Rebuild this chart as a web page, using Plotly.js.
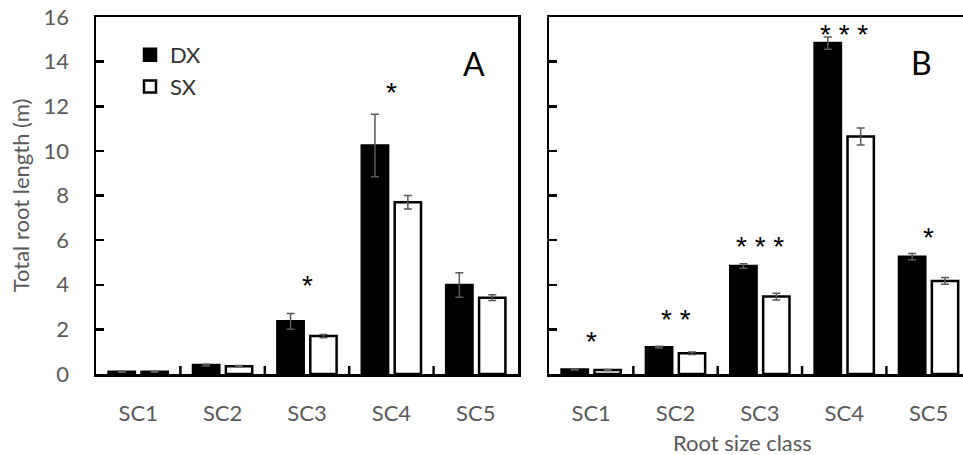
<!DOCTYPE html>
<html><head><meta charset="utf-8">
<script src="https://cdn.plot.ly/plotly-3.0.1.min.js"></script>
<style>html,body{margin:0;padding:0;background:#fff}#chart{width:963px;height:455px}</style>
</head><body><div id="chart"></div>
<script>
// ---- data ----
var categories = ['SC1','SC2','SC3','SC4','SC5'];
// Panel A
var dxA    = [0.10, 0.40, 2.36, 10.24, 3.99];
var dxAerr = [0.02, 0.04, 0.35, 1.40, 0.55];
var sxA    = [0.10, 0.35, 1.70, 7.70, 3.42];
var sxAerr = [0.02, 0.03, 0.07, 0.30, 0.13];
var sigA   = ['', '', '*', '*', ''];
var sigAy  = [0, 0, 3.95, 12.6, 0];
// Panel B
var dxB    = [0.20, 1.20, 4.84, 14.83, 5.26];
var dxBerr = [0.02, 0.04, 0.10, 0.27, 0.14];
var sxB    = [0.18, 0.93, 3.47, 10.64, 4.17];
var sxBerr = [0.02, 0.06, 0.15, 0.38, 0.15];
var sigB   = ['*', '* *', '* * *', '* * *', '*'];
var sigBy  = [1.45, 2.45, 5.7, 15.2, 6.1];
var yTicks = [0,2,4,6,8,10,12,14,16];
var boundaryTicks = [0.5, 1.5, 2.5, 3.5];

var grey = '#595959';
function bar(name, y, err, fill, xa, ya, show){
  return {type:'bar', name:name, x:categories, y:y, xaxis:xa, yaxis:ya,
    showlegend:show, legendgroup:name,
    marker:{color:fill, line:{color:'#000', width:2.5}},
    error_y:{type:'data', array:err, visible:true, color:grey, thickness:1.5, width:4},
    hoverinfo:'skip'};
}
var data = [
  bar('DX', dxA, dxAerr, '#000', 'x', 'y', true),
  bar('SX', sxA, sxAerr, '#fff', 'x', 'y', true),
  bar('DX', dxB, dxBerr, '#000', 'x2', 'y2', false),
  bar('SX', sxB, sxBerr, '#fff', 'x2', 'y2', false)
];

var starFont = {family:'"Liberation Sans", Arial, sans-serif', size:28, color:'#000'};
var ann = [];
categories.forEach(function(c,i){
  if(sigA[i]) ann.push({xref:'x', yref:'y', x:c, y:sigAy[i], text:sigA[i], showarrow:false, font:starFont});
  if(sigB[i]) ann.push({xref:'x2', yref:'y2', x:c, y:sigBy[i], text:sigB[i], showarrow:false, font:starFont});
});
ann.push({xref:'paper', yref:'paper', x:(474-96)/867, y:1-(64-17)/357, text:'A', showarrow:false,
  font:{size:32, color:'#000'}, xanchor:'center', yanchor:'middle'});
ann.push({xref:'paper', yref:'paper', x:(921-96)/867, y:1-(62-17)/357, text:'B', showarrow:false,
  font:{size:32, color:'#000'}, xanchor:'center', yanchor:'middle'});
ann.push({xref:'paper', yref:'paper', x:(742-96)/867, y:-(442-374)/357, text:'Root size class', showarrow:false,
  font:{size:22, color:grey}, xanchor:'center', yanchor:'middle'});

// category-boundary tick marks on the x axes (inside, pointing up)
var shapes = [];
['x','x2'].forEach(function(xr, k){
  boundaryTicks.forEach(function(b){
    shapes.push({type:'line', xref:xr, yref:(k ? 'y2' : 'y'), x0:b, x1:b,
      y0:0, y1:0.36, line:{color:'#000', width:2.5}});
  });
});

var xCommon = {type:'category', showline:true, linecolor:'#000', linewidth:2.5, mirror:true,
  ticks:'', tickfont:{size:22, color:grey}, ticklabelstandoff:18, showgrid:false, zeroline:false, fixedrange:true};
var yCommon = {range:[0,16], tickvals:yTicks, showline:true, linecolor:'#000', linewidth:2.5,
  ticks:'inside', ticklen:8, tickwidth:2.5, tickcolor:'#000', showgrid:false, zeroline:false, fixedrange:true};

var domA = [0, (518-96)/867], domB = [(549-96)/867, 1];
var layout = {
  width:963, height:455,
  margin:{l:96, r:0, t:17, b:81},
  paper_bgcolor:'#fff', plot_bgcolor:'#fff',
  font:{family:'Lato, "Open Sans", sans-serif', color:grey},
  barmode:'group', bargap:0.22, bargroupgap:0.2,
  showlegend:true,
  legend:{x:(130-96)/867, y:1-(34-17)/357, xanchor:'left', yanchor:'top',
    font:{size:22, color:'#333'}, bgcolor:'rgba(0,0,0,0)', traceorder:'grouped', tracegroupgap:0},
  xaxis: Object.assign({}, xCommon, {domain:domA, anchor:'y', range:[-0.5,4.5]}),
  xaxis2: Object.assign({}, xCommon, {domain:domB, anchor:'y2', range:[-0.5, 4.408]}),
  yaxis: Object.assign({}, yCommon, {anchor:'x', mirror:true, tickfont:{size:22, color:grey},
    ticklabelstandoff:20, title:{text:'Total root length (m)', font:{size:22, color:grey}, standoff:8}}),
  yaxis2: Object.assign({}, yCommon, {anchor:'x2', showticklabels:false}),
  annotations: ann,
  shapes: shapes
};
Plotly.newPlot('chart', data, layout, {displayModeBar:false, staticPlot:true});
</script>
</body></html>
